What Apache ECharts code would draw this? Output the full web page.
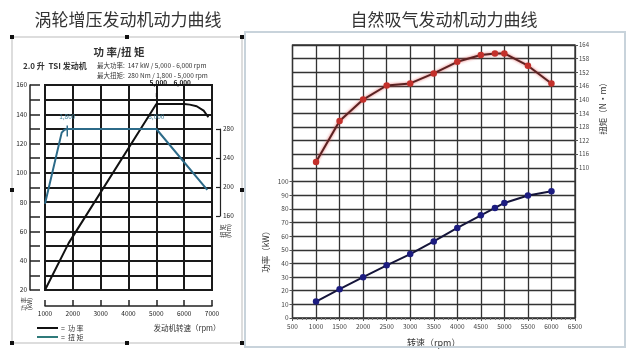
<!DOCTYPE html>
<html><head><meta charset="utf-8">
<script src="https://cdn.jsdelivr.net/npm/echarts@6/dist/echarts.min.js"></script>
<style>html,body{margin:0;padding:0;background:#fff}#c{width:640px;height:360px}</style>
</head><body><div id="c"></div>
<script>
// ---- Left chart (turbocharged) ----
const lPowerRpm = [1000, 1850, 5000, 6000, 6200, 6450, 6700, 6870];
const lPowerKw  = [20, 52, 147, 147, 146.6, 145.5, 142.5, 138];
const lTorqueRpm = [1000, 1600, 1700, 1800, 5000, 6830];
const lTorqueNm  = [177, 275, 279, 280, 280, 196];
// ---- Right chart (naturally aspirated) ----
const rRpm      = [1000, 1500, 2000, 2500, 3000, 3500, 4000, 4500, 4800, 5000, 5500, 6000];
const rPowerKw  = [12.0, 21.1, 29.9, 38.6, 46.8, 56.1, 66.0, 75.2, 80.6, 84.3, 89.7, 92.9];
const rTorqueNm = [112.6, 130.6, 140.0, 146.2, 147.1, 151.5, 156.6, 159.6, 160.3, 160.3, 154.9, 147.1];

const FF = '"Noto Sans CJK SC", "Liberation Sans", sans-serif';
const zip = (a, b) => a.map((v, i) => [v, b[i]]);
const plain = v => String(v);

const chart = echarts.init(document.getElementById('c'), null, {renderer: 'canvas'});

const handles = [[12,37],[127,37],[242,37],[12,190],[242,190],[12,343],[127,343],[242,343]].map(p => ({
  type: 'rect', shape: {x: p[0]-2, y: p[1]-2, width: 4, height: 4}, style: {fill: '#111'}, z: 10
}));

const txt = (x, y, text, font, fill, align, extra) => Object.assign({
  type: 'text', x: x, y: y, z: 10,
  style: {text: text, font: font, fill: fill || '#333', textAlign: align || 'left', textVerticalAlign: 'middle'}
}, extra || {});

chart.setOption({
  animation: false,
  backgroundColor: '#fff',
  textStyle: {fontFamily: FF},
  grid: [
    {left: 45, top: 85, width: 167, height: 205, show: true, borderColor: '#1a1a1a', borderWidth: 2},
    {left: 45, top: 129, width: 167, height: 87},
    {left: 292.5, top: 45, width: 282.5, height: 273, show: true, borderColor: '#333', borderWidth: 1.3},
    {left: 292.5, top: 181.5, width: 282.5, height: 136.5},
    {left: 292.5, top: 45, width: 282.5, height: 122.85}
  ],
  xAxis: [
    {gridIndex: 0, type: 'value', min: 1000, max: 7000, interval: 1000, offset: 16,
     axisLine: {show: true, lineStyle: {color: '#222', width: 1.5}},
     axisTick: {show: true, inside: true, length: 6, lineStyle: {color: '#222', width: 1.5}},
     axisLabel: {fontSize: 6.5, color: '#222', margin: 4, fontFamily: FF, formatter: plain},
     splitLine: {show: true, lineStyle: {color: '#1a1a1a', width: 2}}},
    {gridIndex: 1, type: 'value', min: 1000, max: 7000, show: false},
    {gridIndex: 2, type: 'value', min: 500, max: 6500, interval: 500,
     axisLine: {show: false},
     axisTick: {show: true, length: 3, lineStyle: {color: '#555'}},
     minorTick: {show: true, splitNumber: 5, length: 2, lineStyle: {color: '#777'}},
     axisLabel: {fontSize: 6.5, color: '#444', margin: 5, fontFamily: FF, formatter: plain},
     splitLine: {show: true, lineStyle: {color: '#333', width: 1.3}},
     name: '转速（rpm）', nameLocation: 'middle', nameGap: 20,
     nameTextStyle: {fontSize: 9, color: '#333', fontFamily: FF}},
    {gridIndex: 3, type: 'value', min: 500, max: 6500, show: false},
    {gridIndex: 4, type: 'value', min: 500, max: 6500, show: false}
  ],
  yAxis: [
    {gridIndex: 0, type: 'value', min: 20, max: 160, interval: 10, offset: 15,
     axisLine: {show: true, lineStyle: {color: '#222', width: 1.5}},
     axisTick: {show: true, inside: true, length: 10, lineStyle: {color: '#222', width: 1.5}},
     axisLabel: {fontSize: 6.5, color: '#222', margin: 3, fontFamily: FF,
                 formatter: v => (v % 20 === 0 ? String(v) : '')},
     splitLine: {show: true, lineStyle: {color: '#1a1a1a', width: 2}}},
    {gridIndex: 1, type: 'value', min: 160, max: 280, interval: 40, position: 'right', offset: 8,
     axisLine: {show: true, lineStyle: {color: '#222', width: 1.2}},
     axisTick: {show: true, inside: true, length: 4, lineStyle: {color: '#222', width: 1.2}},
     axisLabel: {fontSize: 6.5, color: '#222', margin: 3, fontFamily: FF, formatter: plain},
     splitLine: {show: false}},
    {gridIndex: 2, type: 'value', min: 0, max: 20, interval: 1,
     axisLine: {show: false}, axisTick: {show: false}, axisLabel: {show: false},
     splitLine: {show: true, lineStyle: {color: '#333', width: 1.3}}},
    {gridIndex: 3, type: 'value', min: 0, max: 100, interval: 10,
     axisLine: {show: false},
     axisTick: {show: true, length: 3, lineStyle: {color: '#555'}},
     axisLabel: {fontSize: 6.5, color: '#444', margin: 4, fontFamily: FF, formatter: plain},
     splitLine: {show: false},
     name: '功率（kW）', nameLocation: 'middle', nameGap: 22, nameRotate: 90,
     nameTextStyle: {fontSize: 8.5, color: '#333', fontFamily: FF}},
    {gridIndex: 4, type: 'value', min: 110, max: 164, interval: 6, position: 'right',
     axisLine: {show: false},
     axisTick: {show: true, length: 3, lineStyle: {color: '#555'}},
     axisLabel: {fontSize: 6, color: '#444', margin: 4, fontFamily: FF, formatter: plain},
     splitLine: {show: false},
     name: '扭矩（N•m）', nameLocation: 'middle', nameGap: 24, nameRotate: 90,
     nameTextStyle: {fontSize: 8.5, color: '#333', fontFamily: FF}}
  ],
  series: [
    {type: 'line', xAxisIndex: 0, yAxisIndex: 0, data: zip(lPowerRpm, lPowerKw), symbol: 'none',
     lineStyle: {color: '#111', width: 2}, z: 5,
     markPoint: {symbol: 'rect', symbolSize: [1, 4], itemStyle: {color: '#111'},
       label: {show: true, fontSize: 6.5, fontWeight: 'bold', color: '#111', fontFamily: FF},
       data: [
         {coord: [5000, 147], symbolOffset: [0, -9], label: {formatter: '5,000', offset: [2, -2], position: 'top'}},
         {coord: [6000, 147], symbolOffset: [0, -9], itemStyle: {color: 'rgba(0,0,0,0)'},
          label: {formatter: '6,000', offset: [-2, -2], position: 'top'}}
       ]}},
    {type: 'line', xAxisIndex: 1, yAxisIndex: 1, data: zip(lTorqueRpm, lTorqueNm), symbol: 'none', clip: false,
     lineStyle: {color: '#2c6a88', width: 2}, z: 5,
     markPoint: {symbol: 'rect', symbolSize: [1.5, 11], itemStyle: {color: '#2c6a88'},
       label: {show: true, fontSize: 6.5, color: '#3a7f99', position: 'top', offset: [0, -1], fontFamily: FF},
       data: [
         {coord: [1800, 280], symbolOffset: [0, 2], label: {formatter: '1,800'}},
         {coord: [5000, 280], symbolOffset: [0, 2], itemStyle: {color: 'rgba(0,0,0,0)'}, label: {formatter: '5,000'}}
       ]}},
    {type: 'line', xAxisIndex: 3, yAxisIndex: 3, data: zip(rRpm, rPowerKw), clip: false,
     symbol: 'circle', symbolSize: 6.5, itemStyle: {color: '#1c1c80'},
     lineStyle: {color: '#15153a', width: 2}, z: 5},
    {type: 'line', xAxisIndex: 4, yAxisIndex: 4, data: zip(rRpm, rTorqueNm), clip: false,
     symbol: 'circle', symbolSize: 6.5, itemStyle: {color: '#c3302b'},
     lineStyle: {color: '#5a2222', width: 2, shadowColor: 'rgba(220,60,60,0.8)', shadowBlur: 3}, z: 5}
  ],
  graphic: [
    {type: 'rect', shape: {x: 12, y: 37, width: 230, height: 306}, style: {fill: 'none', stroke: '#bbb', lineWidth: 1}, z: 1},
    {type: 'rect', shape: {x: 245, y: 32, width: 380, height: 315}, style: {fill: 'none', stroke: '#c8d3db', lineWidth: 2}, z: 1},
    ...handles,
    txt(128, 20, '涡轮增压发动机动力曲线', '17px ' + FF, '#333', 'center'),
    txt(444, 20, '自然吸气发动机动力曲线', '17px ' + FF, '#333', 'center'),
    txt(119, 52, '功 率/扭 矩', 'bold 10.5px ' + FF, '#333', 'center'),
    txt(23, 66, '2.0 升  TSI 发动机', 'bold 8px ' + FF, '#333', 'left'),
    txt(97, 66, '最大功率:  147 kW / 5,000 - 6,000 rpm', '6.5px ' + FF, '#333', 'left'),
    txt(97, 76, '最大扭矩:  280 Nm / 1,800 - 5,000 rpm', '6.5px ' + FF, '#333', 'left'),
    txt(187, 328, '发动机转速（rpm）', '7.5px ' + FF, '#333', 'center'),
    {type: 'line', shape: {x1: 37, y1: 328, x2: 58, y2: 328}, style: {stroke: '#111', lineWidth: 2}, z: 10},
    {type: 'line', shape: {x1: 37, y1: 337, x2: 58, y2: 337}, style: {stroke: '#2f7a7a', lineWidth: 2}, z: 10},
    txt(61, 328, '=  功 率', '7px ' + FF, '#333', 'left'),
    txt(61, 337, '=  扭 矩', '7px ' + FF, '#333', 'left'),
    txt(27, 304, '功 率\n(kW)', '6px ' + FF, '#333', 'center', {rotation: Math.PI / 2}),
    txt(226, 231, '扭 矩\n(Nm)', '6px ' + FF, '#333', 'center', {rotation: Math.PI / 2})
  ]
});
</script></body></html>
